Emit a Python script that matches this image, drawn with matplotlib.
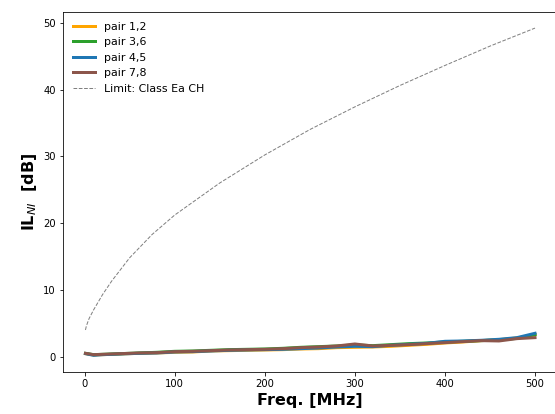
import matplotlib
matplotlib.use('Agg')
import matplotlib.pyplot as plt

freq = [1, 10, 20, 40, 60, 80, 100, 120, 140, 160, 180, 200, 220, 240, 260,
        280, 300, 320, 340, 360, 380, 400, 420, 440, 460, 480, 500]

il_12 = [0.45, 0.25, 0.3, 0.4, 0.5, 0.55, 0.65, 0.7, 0.85, 0.9, 0.95, 1.0, 1.05, 1.15, 1.2,
         1.35, 1.4, 1.45, 1.55, 1.7, 1.85, 2.05, 2.2, 2.4, 2.55, 2.8, 3.3]
il_36 = [0.5, 0.3, 0.35, 0.45, 0.55, 0.65, 0.8, 0.85, 0.95, 1.05, 1.1, 1.15, 1.25, 1.4, 1.5,
         1.6, 1.75, 1.65, 1.8, 1.95, 2.05, 2.2, 2.3, 2.4, 2.5, 2.75, 3.3]
il_45 = [0.45, 0.2, 0.3, 0.4, 0.5, 0.55, 0.7, 0.75, 0.85, 0.95, 1.0, 1.05, 1.1, 1.2, 1.3,
         1.45, 1.55, 1.5, 1.7, 1.85, 2.0, 2.3, 2.35, 2.45, 2.6, 2.85, 3.5]
il_78 = [0.5, 0.3, 0.35, 0.45, 0.55, 0.6, 0.75, 0.8, 0.9, 1.0, 1.05, 1.1, 1.2, 1.35, 1.45,
         1.6, 1.9, 1.6, 1.7, 1.8, 1.95, 2.1, 2.25, 2.4, 2.35, 2.7, 2.85]

# limit curve
lim_freq = [1, 2, 5, 10, 20, 30, 50, 75, 100, 150, 200, 250, 300, 350, 400, 450, 500]
lim_il = [4.0, 4.6, 5.7, 7.0, 9.3, 11.3, 14.8, 18.3, 21.2, 26.0, 30.2, 34.0, 37.4, 40.6, 43.6, 46.5, 49.2]

fig = plt.figure(figsize=(555 / 72, 414 / 72), dpi=72)
ax = fig.add_axes([0.1135, 0.1022, 0.891, 0.8695])

ax.plot(freq, il_12, color='orange', lw=3, label='pair 1,2')
ax.plot(freq, il_36, color='tab:green', lw=3, label='pair 3,6')
ax.plot(freq, il_45, color='tab:blue', lw=3, label='pair 4,5')
ax.plot(freq, il_78, color='tab:brown', lw=3, label='pair 7,8')
ax.plot(lim_freq, lim_il, color='gray', ls='--', lw=1, label='Limit: Class Ea CH')

ax.set_xlabel('Freq. [MHz]', fontsize=16, fontweight='bold')
ax.set_ylabel(r'IL$_{NI}$  [dB]', fontsize=16, fontweight='bold')
ax.legend(loc='upper left', frameon=False, fontsize=11)

fig.savefig('out.png', dpi=72)
